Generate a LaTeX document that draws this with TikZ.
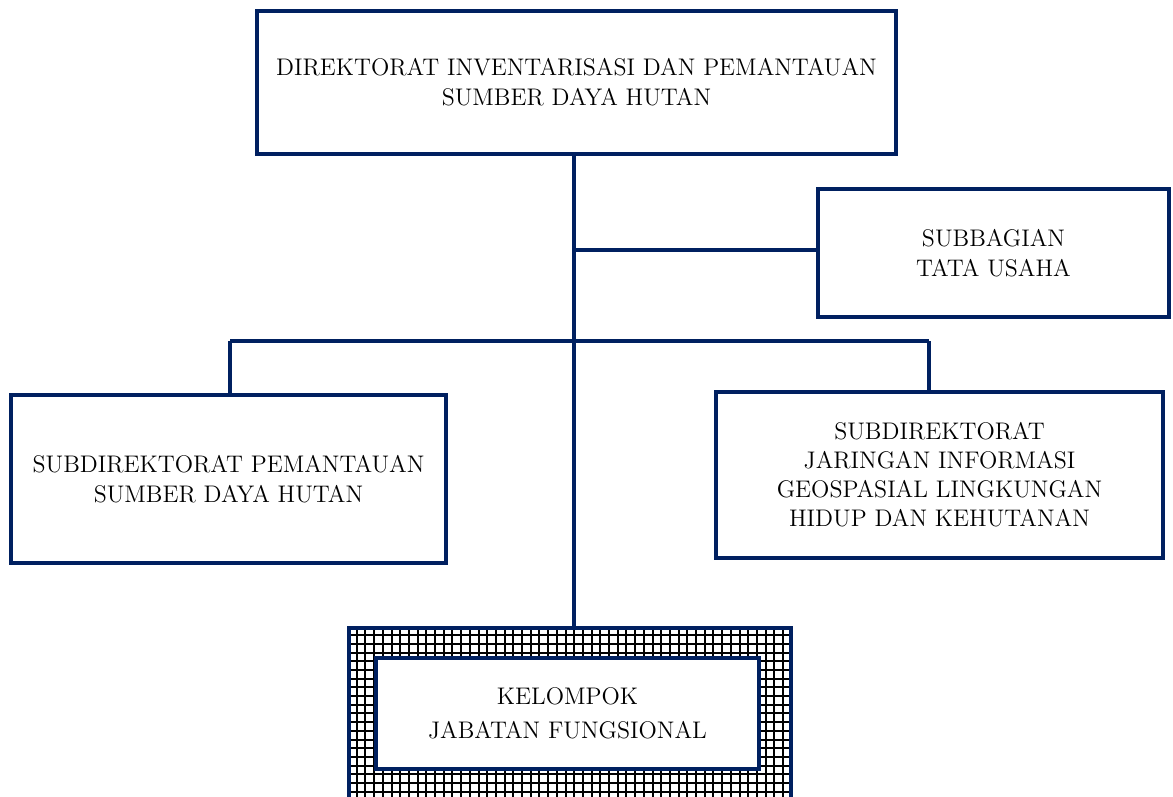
\documentclass[tikz,border=0pt]{standalone}
\definecolor{navy}{HTML}{002060}
\begin{document}
\begin{tikzpicture}[x=0.5pt,y=-0.5pt,
  line width=2pt,
  org node/.style={rectangle,draw=navy,fill=white,line width=2pt,align=center,inner sep=0pt,
    font=\fontsize{12}{15}\selectfont},
  link/.style={draw=navy,line width=2pt}]
  \clip (0,0) rectangle (1173,797);
  \node[org node,minimum width=319.5pt,minimum height=71.5pt] (dir) at (576.5,82.5)
    {DIREKTORAT INVENTARISASI DAN PEMANTAUAN\\SUMBER DAYA HUTAN};
  \node[org node,minimum width=175.5pt,minimum height=64pt] (tu) at (993.5,253)
    {SUBBAGIAN\\TATA USAHA};
  \node[org node,minimum width=217.5pt,minimum height=84pt] (pem) at (228.5,479)
    {SUBDIREKTORAT PEMANTAUAN\\SUMBER DAYA HUTAN};
  \node[org node,minimum width=223.5pt,minimum height=83pt,
    font=\fontsize{12}{14.5}\selectfont] (jig) at (939.5,475)
    {SUBDIREKTORAT\\JARINGAN INFORMASI\\GEOSPASIAL LINGKUNGAN\\HIDUP DAN KEHUTANAN};
  % kotak berarsir
  \node[rectangle,minimum width=219pt,minimum height=100pt] (grid) at (570,730) {};
  \begin{scope}
    \clip (grid.north west) rectangle (grid.south east);
    \draw[black,line width=1pt,step=4.35pt] (grid.north west) grid (grid.south east);
  \end{scope}
  \draw[navy,line width=2pt] (grid.south west) -- (grid.north west) -- (grid.north east) -- (grid.south east);
  \node[org node,minimum width=191.5pt,minimum height=55.5pt,
    font=\fontsize{12}{17}\selectfont] (jf) at (567.5,713.5)
    {KELOMPOK\\JABATAN FUNGSIONAL};
  \coordinate (trunk) at (574,341);
  \coordinate (bar l) at (230,341);
  \coordinate (bar r) at (929,341);
  \draw[link] (dir.south -| trunk) -- (grid.north -| trunk);
  \draw[link] (tu.west |- 574,250) -- (574,250);
  \draw[link] (bar l) -- (bar r);
  \draw[link] (bar l) -- (bar l |- pem.north);
  \draw[link] (bar r) -- (bar r |- jig.north);
\end{tikzpicture}
\end{document}
